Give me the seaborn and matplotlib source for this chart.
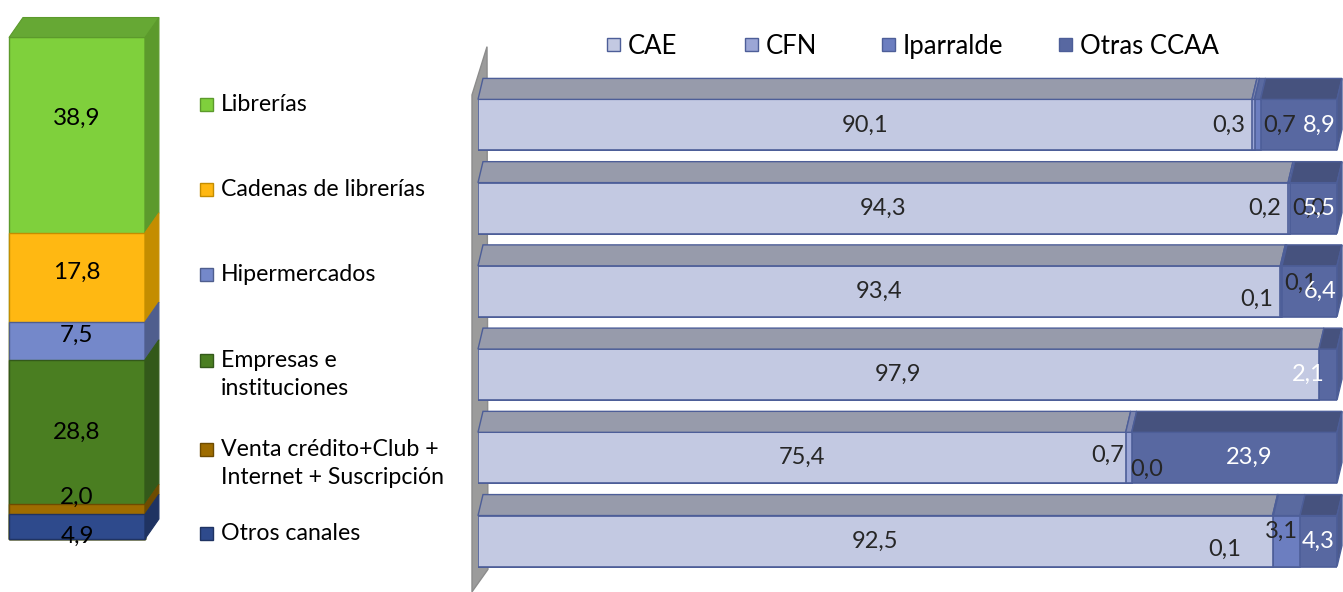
# -*- coding: utf-8 -*-
"""
Ventas de libros por canal y origen del cliente (columna 3D + barras 3D apiladas)
"""

import numpy as np
import pandas as pd
import matplotlib
matplotlib.use("Agg")
import matplotlib.pyplot as plt
from matplotlib.patches import Polygon, Rectangle
import seaborn as sns

# Data
# Channels, top to bottom (left column and right bars share this order)
canales = ["Librerías", "Cadenas de librerías", "Hipermercados",
           "Empresas e\ninstituciones", "Venta crédito+Club +\nInternet + Suscripción",
           "Otros canales"]
cuota = [38.9, 17.8, 7.5, 28.8, 2.0, 4.9]

# Origin of the sales for each channel (%)
origen = ["CAE", "CFN", "Iparralde", "Otras CCAA"]
cae = [90.1, 94.3, 93.4, 97.9, 75.4, 92.5]
cfn = [0.3, 0.2, 0.1, np.nan, 0.7, 0.1]
iparralde = [0.7, 0.0, 0.1, np.nan, 0.0, 3.1]
otras = [8.9, 5.5, 6.4, 2.1, 23.9, 4.3]

# Colours
canal_front = ["#7FD03C", "#FFB812", "#7488CA", "#4A7E21", "#9E6C00", "#2E4A8C"]
canal_side = ["#5C9A2C", "#C48D00", "#4F5E8E", "#33591A", "#6E4B00", "#1F3362"]
canal_top = "#66A834"
origen_front = ["#C3C9E2", "#9BA6D6", "#6C7EC0", "#5868A1"]
origen_top = ["#979BAB", "#7D86AE", "#5A6AA0", "#46527E"]
edge_blue = "#4D5E98"

def fmt(v):
    return f"{v:.1f}".replace(".", ",")

sns.set_style("white")
plt.rcParams["font.family"] = ["Lato", "DejaVu Sans"]

W, H = 1343, 592
fig = plt.figure(figsize=(W / 100, H / 100), dpi=100)

# ---------------- Left: single stacked 3D column ----------------
ax1 = fig.add_axes([0, 0, 180 / W, 1])
total = sum(cuota)
tops = [total - sum(cuota[:i]) for i in range(len(cuota))]
bottoms = [t - v for t, v in zip(tops, cuota)]

for i in range(len(cuota)):
    sns.barplot(x=["total"], y=[tops[i]], color=canal_front[i], saturation=1,
                width=0.8, edgecolor=canal_side[i], linewidth=1, ax=ax1)
bar = ax1.patches[0]
x0, x1 = bar.get_x(), bar.get_x() + bar.get_width()
dx1, dy1 = 0.082, 3.98  # depth of the 3D effect

for i in range(len(cuota)):
    side = [(x1, bottoms[i]), (x1, tops[i]), (x1 + dx1, tops[i] + dy1), (x1 + dx1, bottoms[i] + dy1)]
    ax1.add_patch(Polygon(side, closed=True, facecolor=canal_side[i],
                          edgecolor=canal_side[i], linewidth=0.8, zorder=3))
top_face = [(x0, tops[0]), (x1, tops[0]), (x1 + dx1, tops[0] + dy1), (x0 + dx1, tops[0] + dy1)]
ax1.add_patch(Polygon(top_face, closed=True, facecolor=canal_top,
                      edgecolor="#5C9A2C", linewidth=0.8, zorder=3))

lab_nudge = [12, 4, 4, 0, 9, -7]  # points
for i, v in enumerate(cuota):
    ax1.annotate(fmt(v), ((x0 + x1) / 2, (tops[i] + bottoms[i]) / 2),
                 xytext=(0, lab_nudge[i]), textcoords="offset points",
                 ha="center", va="center", fontsize=17.5, color="black", zorder=5)

ax1.set_xlim(-0.453, 0.606)
ax1.set_ylim(-10.56, 107.37)
ax1.axis("off")

# ---------------- Middle: channel legend ----------------
entry_y = [104, 189, 274, 360, 449, 533]
for i, name in enumerate(canales):
    yc = 1 - entry_y[i] / H
    fig.patches.append(Rectangle((200 / W, yc - 6.5 / H), 13 / W, 13 / H,
                                 transform=fig.transFigure, facecolor=canal_front[i],
                                 edgecolor=canal_side[i], linewidth=1))
    fig.text(221 / W, yc + 10 / H, name, ha="left", va="top", fontsize=16.7,
             linespacing=1.42, color="black")

# ---------------- Right: stacked 3D horizontal bars ----------------
ax2 = fig.add_axes([478 / W, 1 - 591 / H, 859 / W, 541 / H])
df = pd.DataFrame({"canal": canales, "CAE": cae, "CFN": cfn,
                   "Iparralde": iparralde, "Otras CCAA": otras})
cum = df[origen].fillna(0).cumsum(axis=1)

containers = {}
for k in range(len(origen) - 1, -1, -1):
    s = origen[k]
    sns.barplot(x=cum[s].values, y=df["canal"], orient="y", color=origen_front[k],
                saturation=1, width=0.613, edgecolor=edge_blue, linewidth=1.2, ax=ax2)
    containers[s] = ax2.containers[-1]

ax2.set_xlim(0, 100)
ax2.set_ylim(5.6, -0.9)

dx2, dy2 = 0.58, 0.252
for r in range(len(df)):
    prev = 0.0
    for k, s in enumerate(origen):
        b = containers[s][r]
        ytop, ybot = b.get_y(), b.get_y() + b.get_height()
        cur = cum[s].iloc[r]
        if cur - prev > 0:
            face = [(prev, ytop), (cur, ytop), (cur + dx2, ytop - dy2), (prev + dx2, ytop - dy2)]
            ax2.add_patch(Polygon(face, closed=True, facecolor=origen_top[k],
                                  edgecolor=edge_blue, linewidth=1, zorder=3, clip_on=False))
        prev = cur
    side = [(prev, ytop), (prev, ybot), (prev + dx2, ybot - dy2), (prev + dx2, ytop - dy2)]
    ax2.add_patch(Polygon(side, closed=True, facecolor="#4C5A8C",
                          edgecolor=edge_blue, linewidth=1, zorder=3, clip_on=False))

# grey wall on the left of the bars
wall = [(-0.70, 5.61), (-0.70, -0.36), (1.05, -0.94), (1.16, 5.34)]
ax2.add_patch(Polygon(wall, closed=True, facecolor="#9B9B9B", edgecolor="#8C8C8C",
                      linewidth=1, zorder=0.5, clip_on=False))

# value labels (nudges in points, mimicking the original label placement)
cfn_nudge = [(0, 0), (0, 0), (0, -6), (0, 0), (4, 2), (-18, -6)]
ipar_nudge = [(0, 0), (0, 0), (0, 6), (0, 0), (-3, -8), (-4, 7)]
otras_nudge = [15, 4, 8, -14, 11, 0]
fs = 17
for r in range(len(df)):
    c0 = cum["CAE"].iloc[r]
    ax2.annotate(fmt(cae[r]), (c0 / 2, r), ha="center", va="center", fontsize=fs, zorder=5)
    if not np.isnan(cfn[r]):
        ax2.annotate(fmt(cfn[r]), (c0 - 0.8, r), xytext=cfn_nudge[r],
                     textcoords="offset points", ha="right", va="center", fontsize=fs, zorder=5)
    c1 = cum["CFN"].iloc[r]
    c2 = cum["Iparralde"].iloc[r]
    if not np.isnan(iparralde[r]):
        if iparralde[r] >= 2:
            pos, ha = (c1 + c2) / 2, "center"
        else:
            pos, ha = c2 + 0.3, "left"
        ax2.annotate(fmt(iparralde[r]), (pos, r), xytext=ipar_nudge[r],
                     textcoords="offset points", ha=ha, va="center", fontsize=fs, zorder=5)
    c3 = cum["Otras CCAA"].iloc[r]
    ax2.annotate(fmt(otras[r]), ((c2 + c3) / 2, r), xytext=(otras_nudge[r], 0),
                 textcoords="offset points", ha="center", va="center",
                 fontsize=fs, color="white", zorder=5)

ax2.axis("off")

# top legend for the origin series
legend_x = [607, 745, 882, 1059]
for k, s in enumerate(origen):
    fig.patches.append(Rectangle((legend_x[k] / W, 1 - 51 / H), 13 / W, 13 / H,
                                 transform=fig.transFigure, facecolor=origen_front[k],
                                 edgecolor=edge_blue, linewidth=1))
    fig.text((legend_x[k] + 21) / W, 1 - 44 / H, s, ha="left", va="center_baseline",
             fontsize=18.5, color="black")

plt.savefig("out.png", dpi=100)
